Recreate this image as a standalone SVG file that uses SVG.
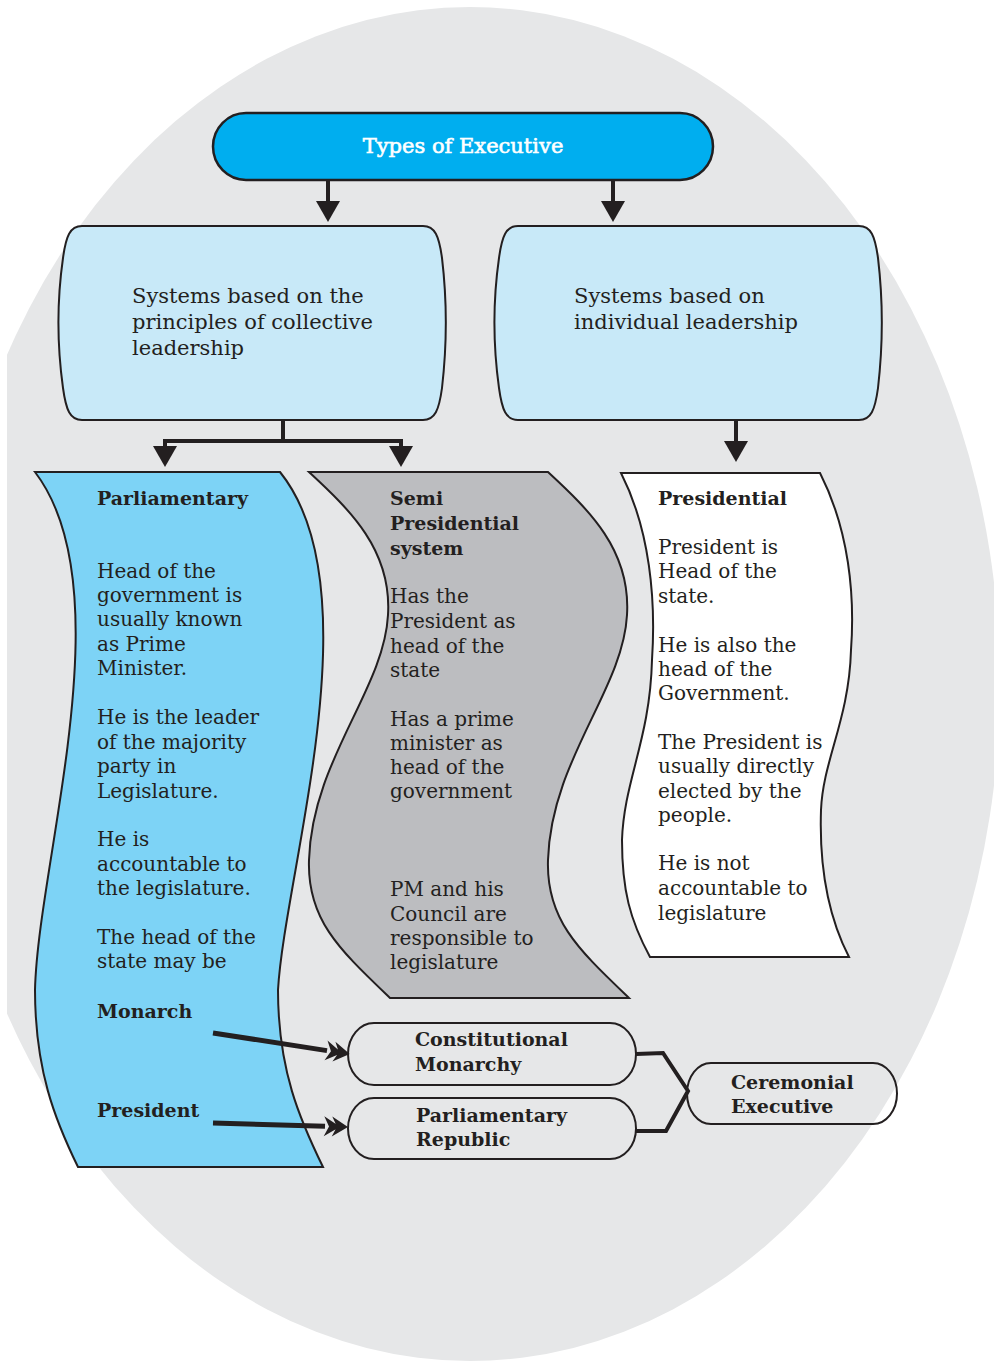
<svg xmlns="http://www.w3.org/2000/svg" width="994" height="1364" viewBox="0 0 994 1364">
<style>
.bg{fill:#e6e7e8}
.stk{stroke:#231f20;stroke-width:2}
.txt{font-family:"DejaVu Serif","Liberation Serif",serif;font-size:20px;fill:#231f20}
.hd{font-size:21px}
.b{font-weight:bold;font-size:19px}
.wire{fill:none;stroke:#231f20;stroke-width:4;stroke-linejoin:miter}
.thick{fill:none;stroke:#231f20;stroke-width:5}
</style>
<defs>
<marker id="tri" markerUnits="userSpaceOnUse" markerWidth="30" markerHeight="30" refX="0" refY="0" orient="auto" overflow="visible">
<path d="M0,-12 L21,0 L0,12 Z" fill="#231f20"/>
</marker>
<marker id="dbl" markerUnits="userSpaceOnUse" markerWidth="30" markerHeight="30" refX="0" refY="0" orient="auto" overflow="visible">
<path d="M23,0 L7,-10 L12,0 L7,10 Z M15,0 L-1,-10 L4,0 L-1,10 Z" fill="#231f20"/>
</marker>
</defs>
<rect width="994" height="1364" fill="#ffffff"/>
<ellipse class="bg" cx="470" cy="684" rx="530" ry="677"/>
<rect x="0" y="0" width="7" height="1364" fill="#ffffff"/>

<g id="title">
<rect x="213" y="113" width="500" height="67" rx="33" ry="33.5" fill="#00aeef" stroke="#231f20" stroke-width="2.5"/>
<text class="txt" x="463" y="153" text-anchor="middle" style="fill:#ffffff;stroke:#ffffff;stroke-width:0.6;font-size:21px">Types of Executive</text>
</g>

<g id="collective">
<path class="stk" fill="#c8e9f8" d="M82,226 L423,226 C435,226 439,236 442,258 C447,300 447,345 442,388 C439,410 435,420 423,420 L82,420 C70,420 66,410 63,388 C57,345 57,300 63,258 C66,236 70,226 82,226 Z"/>
<text class="txt hd"><tspan x="132" y="303">Systems based on the</tspan><tspan x="132" y="329">principles of collective</tspan><tspan x="132" y="355">leadership</tspan></text>
</g>

<g id="individual">
<path class="stk" fill="#c8e9f8" d="M518,226 L859,226 C871,226 875,236 878,258 C883,300 883,345 878,388 C875,410 871,420 859,420 L518,420 C506,420 502,410 499,388 C493,345 493,300 499,258 C502,236 506,226 518,226 Z"/>
<text class="txt hd"><tspan x="574" y="303">Systems based on</tspan><tspan x="574" y="329">individual leadership</tspan></text>
</g>

<g id="parliamentary">
<path class="stk" fill="#7dd3f6" d="M35,472 L280,472 C375,590 285,870 278,990 C278,1070 300,1120 323,1167 L78,1167 C55,1120 35,1070 35,990 C38,860 125,590 35,472 Z"/>
<text class="txt b" x="97" y="505">Parliamentary</text>
<text class="txt"><tspan x="97" y="578">Head of the</tspan><tspan x="97" y="602">government is</tspan><tspan x="97" y="626">usually known</tspan><tspan x="97" y="651">as Prime</tspan><tspan x="97" y="675">Minister.</tspan><tspan x="97" y="724">He is the leader</tspan><tspan x="97" y="748.5">of the majority</tspan><tspan x="97" y="773">party in</tspan><tspan x="97" y="797.5">Legislature.</tspan><tspan x="97" y="846">He is</tspan><tspan x="97" y="870.5">accountable to</tspan><tspan x="97" y="895">the legislature.</tspan><tspan x="97" y="944">The head of the</tspan><tspan x="97" y="968">state may be</tspan></text>
<text class="txt b" x="97" y="1018">Monarch</text>
<text class="txt b" x="97" y="1117">President</text>
</g>

<g id="semi-presidential">
<path class="stk" fill="#bcbdc0" d="M309,472 L548,472 C589,510 631,550 627,615 C623,690 551,760 548,860 C546,920 579,950 629,998 L390,998 C340,950 307,920 309,860 C312,760 384,690 388,615 C392,550 350,510 309,472 Z"/>
<text class="txt b"><tspan x="390" y="505">Semi</tspan><tspan x="390" y="530">Presidential</tspan><tspan x="390" y="555">system</tspan></text>
<text class="txt"><tspan x="390" y="603">Has the</tspan><tspan x="390" y="628">President as</tspan><tspan x="390" y="652.5">head of the</tspan><tspan x="390" y="677">state</tspan><tspan x="390" y="726">Has a prime</tspan><tspan x="390" y="750">minister as</tspan><tspan x="390" y="774">head of the</tspan><tspan x="390" y="798">government</tspan><tspan x="390" y="896">PM and his</tspan><tspan x="390" y="920.5">Council are</tspan><tspan x="390" y="945">responsible to</tspan><tspan x="390" y="969">legislature</tspan></text>
</g>

<g id="presidential">
<path class="stk" fill="#ffffff" d="M621,473 L820,473 C849,530 855,595 851,650 C849,720 823,760 821,810 C819,870 830,920 849,957 L650,957 C630,920 622,890 622,840 C624,780 650,740 652,660 C656,600 650,530 621,473 Z"/>
<text class="txt b" x="658" y="505">Presidential</text>
<text class="txt"><tspan x="658" y="553.5">President is</tspan><tspan x="658" y="578">Head of the</tspan><tspan x="658" y="602.5">state.</tspan><tspan x="658" y="651.5">He is also the</tspan><tspan x="658" y="676">head of the</tspan><tspan x="658" y="700">Government.</tspan><tspan x="658" y="748.5">The President is</tspan><tspan x="658" y="773">usually directly</tspan><tspan x="658" y="797.5">elected by the</tspan><tspan x="658" y="822">people.</tspan><tspan x="658" y="870">He is not</tspan><tspan x="658" y="895">accountable to</tspan><tspan x="658" y="919.5">legislature</tspan></text>
</g>

<g id="constitutional-monarchy">
<rect class="stk" x="348" y="1023" width="288" height="62" rx="26" ry="31" fill="none"/>
<text class="txt b"><tspan x="415" y="1046">Constitutional</tspan><tspan x="415" y="1071">Monarchy</tspan></text>
</g>

<g id="parliamentary-republic">
<rect class="stk" x="348" y="1098" width="288" height="61" rx="26" ry="30.5" fill="none"/>
<text class="txt b"><tspan x="416" y="1122">Parliamentary</tspan><tspan x="416" y="1146">Republic</tspan></text>
</g>

<g id="ceremonial-executive">
<rect class="stk" x="687" y="1063" width="210" height="61" rx="24" ry="30.5" fill="none"/>
<text class="txt b"><tspan x="731" y="1088.5">Ceremonial</tspan><tspan x="731" y="1113">Executive</tspan></text>
</g>

<g id="connectors">
<line class="wire" x1="328" y1="181" x2="328" y2="201" marker-end="url(#tri)"/>
<line class="wire" x1="613" y1="181" x2="613" y2="201" marker-end="url(#tri)"/>
<polyline class="wire" points="283,421 283,441"/>
<polyline class="wire" points="165,446 165,441 401,441 401,446"/>
<line class="wire" x1="165" y1="444" x2="165" y2="446" marker-end="url(#tri)"/>
<line class="wire" x1="401" y1="444" x2="401" y2="446" marker-end="url(#tri)"/>
<line class="wire" x1="736" y1="421" x2="736" y2="441" marker-end="url(#tri)"/>
<line class="thick" x1="213" y1="1033" x2="327" y2="1050.6" marker-end="url(#dbl)"/>
<line class="thick" x1="213" y1="1123" x2="325" y2="1126.3" marker-end="url(#dbl)"/>
<polyline class="wire" points="636,1054 663,1053 688,1091 666,1131 636,1131"/>
</g>
</svg>
